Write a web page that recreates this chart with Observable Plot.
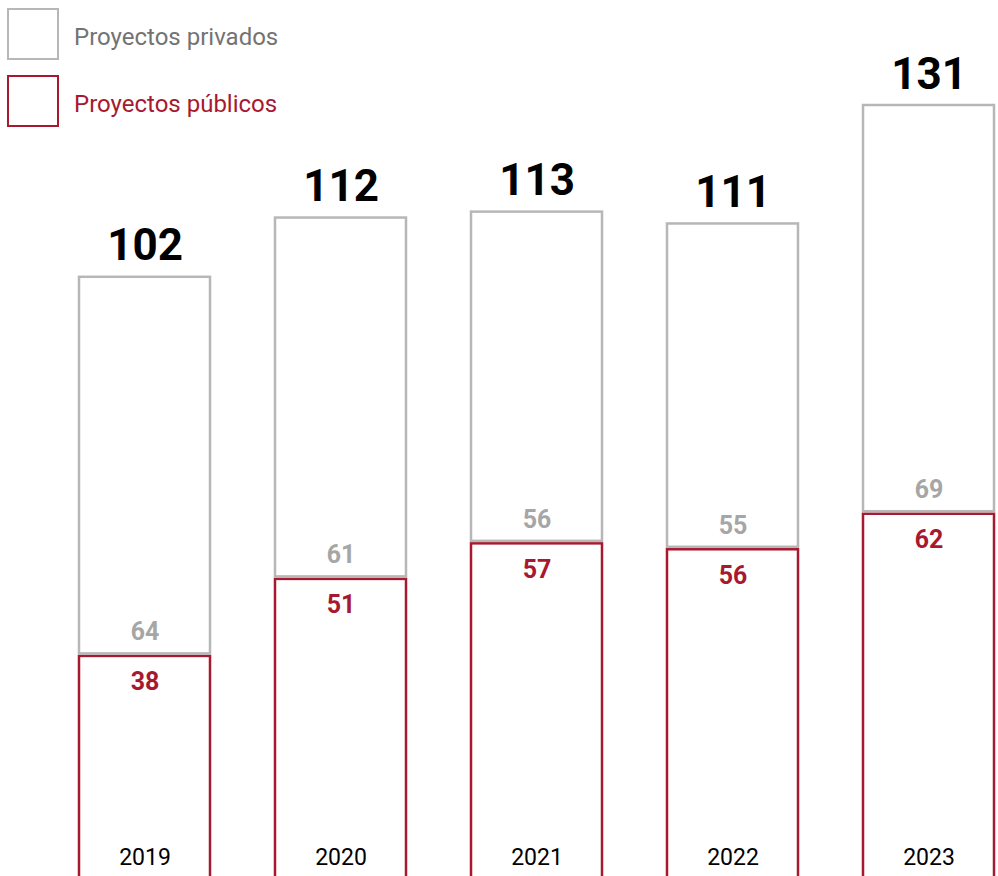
<!DOCTYPE html>
<html>
<head>
<meta charset="utf-8">
<script src="https://cdn.jsdelivr.net/npm/d3@7"></script>
<script src="https://cdn.jsdelivr.net/npm/@observablehq/plot@0.6"></script>
<style>
  html, body { margin: 0; padding: 0; background: #fff; overflow: hidden; }
  body { font-family: Roboto, sans-serif; width: 998px; height: 876px; position: relative; }
  #chart { position: absolute; left: 0; top: 0; }
  .legend { position: absolute; left: 7px; display: flex; align-items: center; font-size: 24px; }
  .legend .sw { width: 48px; height: 48px; box-sizing: content-box; background: #fff; }
  .legend span { margin-left: 15px; position: relative; top: 3px; }
</style>
</head>
<body>
<div id="chart"></div>
<div class="legend" style="top:8px;"><div class="sw" style="border:2.5px solid #b7b7b7;"></div><span style="color:#737373;">Proyectos privados</span></div>
<div class="legend" style="top:75px;"><div class="sw" style="border:2.5px solid #a7192f;"></div><span style="color:#a7192f;">Proyectos públicos</span></div>
<script>
const years = ["2019", "2020", "2021", "2022", "2023"];
const publicos = [38, 51, 57, 56, 62];
const privados = [64, 61, 56, 55, 69];
const totales = [102, 112, 113, 111, 131];

const RED = "#a7192f";
const GRAY = "#b7b7b7";
const GRAYTXT = "#a6a6a6";

const data = years.map((y, i) => ({year: y, pub: publicos[i], priv: privados[i], total: totales[i]}));

const chart = Plot.plot({
  width: 998,
  height: 876,
  margin: 0,
  style: {fontFamily: "Roboto, sans-serif", background: "white", overflow: "visible"},
  x: {domain: years, range: [12, 1061], padding: 0.33, axis: null},
  y: {domain: [0, 131], range: [881, 105], axis: null},
  marks: [
    Plot.rectY(data, {x: "year", y1: 0, y2: "pub", fill: "white", stroke: RED, strokeWidth: 2.5}),
    Plot.rectY(data, {x: "year", y1: "pub", y2: "total", fill: "white", stroke: GRAY, strokeWidth: 2.5, insetBottom: 2.5}),
    Plot.text(data, {x: "year", y: "total", text: "total", dy: -31, fontSize: 44, fontWeight: "bold", fill: "black"}),
    Plot.text(data, {x: "year", y: "pub", text: "priv", dy: -24, fontSize: 25, fontWeight: "bold", fill: GRAYTXT}),
    Plot.text(data, {x: "year", y: "pub", text: "pub", dy: 26, fontSize: 25, fontWeight: "bold", fill: RED}),
    Plot.text(data, {x: "year", y: 0, text: "year", dy: -24, fontSize: 23, fill: "black"})
  ]
});
document.getElementById("chart").appendChild(chart);
</script>
</body>
</html>
